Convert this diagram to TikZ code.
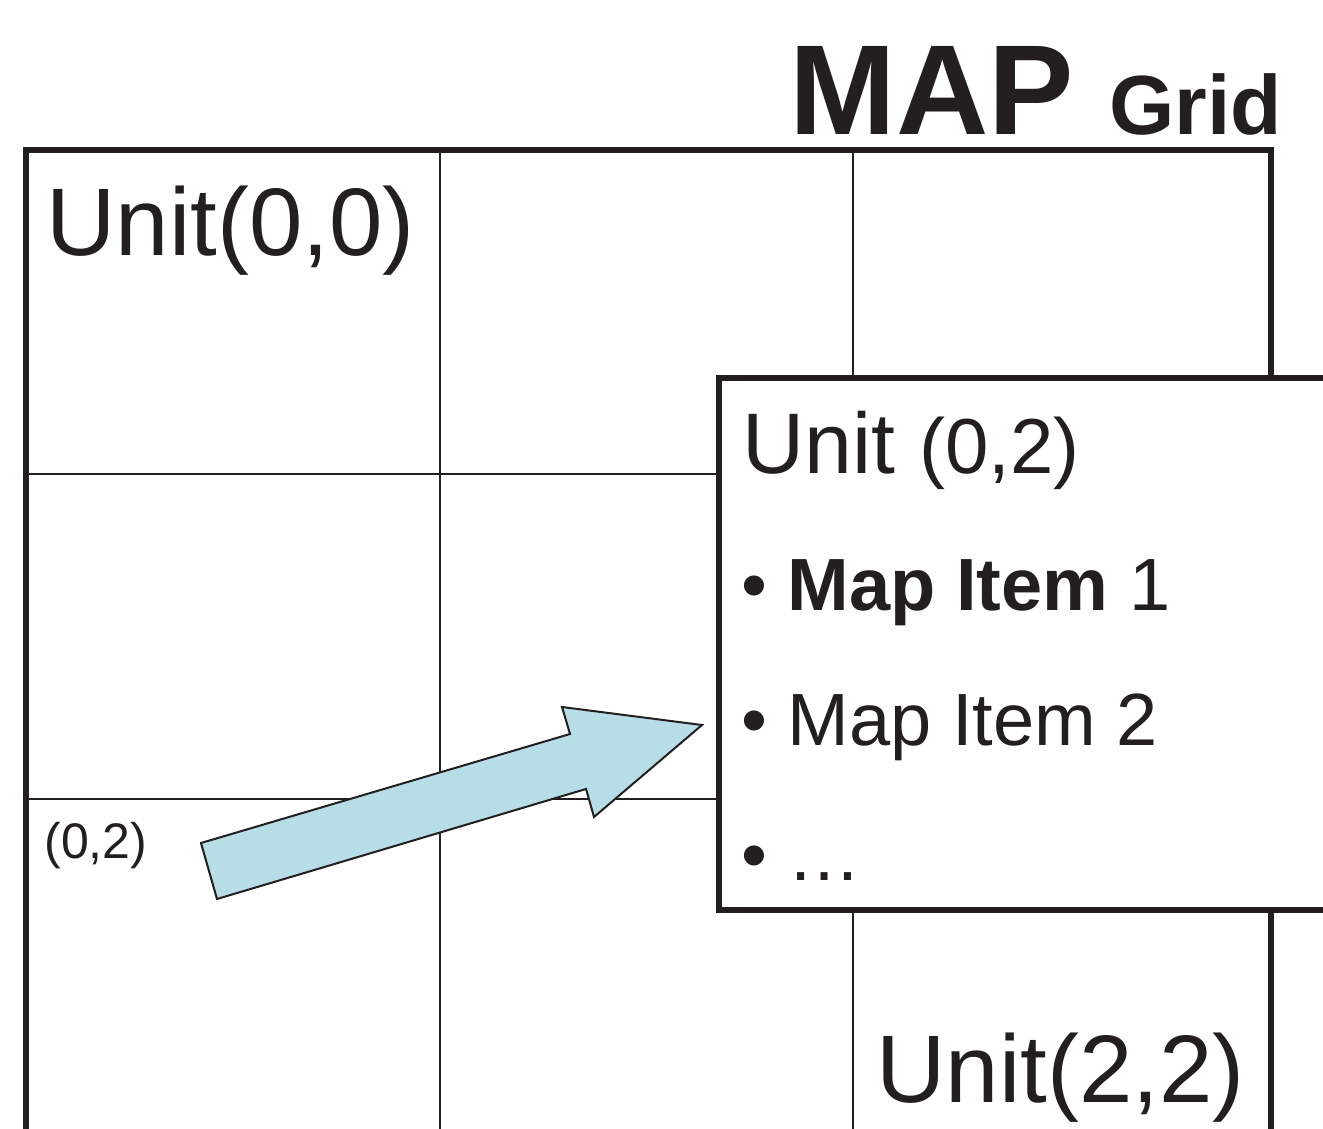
\documentclass[tikz,border=0pt]{standalone}
\usepackage{fontspec}
\setmainfont{Liberation Sans}
\usepackage{xcolor}
\definecolor{ink}{RGB}{35,31,32}
\definecolor{arrowblue}{RGB}{183,221,231}
\tikzset{
    grid-frame/.style = {draw=ink, line width=3pt, line join=miter},
    grid-line/.style = {draw=ink, line width=1.2pt},
    popup-box/.style = {draw=ink, fill=white, line width=3pt, outer sep=0pt},
    unit-label/.style = {text=ink, inner sep=0pt, anchor=base west, font=\fontsize{48}{48}\selectfont},
    item-label/.style = {text=ink, inner sep=0pt, anchor=base west, font=\fontsize{37}{37}\selectfont},
    blue-arrow/.style = {draw=ink, fill=arrowblue, line width=1pt, line join=miter},
}

\begin{document}
\begin{tikzpicture}[x=0.5pt, y=-0.5pt]
\useasboundingbox (0,0) rectangle (1323,1129);
\clip (0,0) rectangle (1323,1129);
% grid
\draw[grid-line] (440,150) -- (440,1140);
\draw[grid-line] (853,150) -- (853,1140);
\draw[grid-line] (26,474) -- (1271,474);
\draw[grid-line] (26,799) -- (1271,799);
\draw[grid-frame] (26,1140) -- (26,150) -- (1271,150) -- (1271,1140);
% title
\node[text=ink, inner sep=0pt, anchor=base west, font=\fontsize{64}{64}\selectfont\bfseries] (title) at (789,134) {MAP {\fontsize{42}{42}\selectfont Grid}};
% cell labels
\node[unit-label] (unit00) at (46,255) {Unit(0,0)};
\node[unit-label] (unit22) at (876,1102) {Unit(2,2)};
\node[text=ink, inner sep=0pt, anchor=base west, font=\fontsize{25}{25}\selectfont] (cell02) at (44,858) {(0,2)};
% arrow from the cell to its contents
\filldraw[blue-arrow] (201,843) -- (570,734) -- (562,707) -- (702,725) -- (594,817) -- (586,789) -- (217,899) -- cycle;
% contents of unit (0,2)
\node[popup-box, anchor=north west, minimum width=320pt, minimum height=266pt] (popup) at (719,378) {};
\node[text=ink, inner sep=0pt, anchor=base west, font=\fontsize{43}{43}\selectfont] (popup-title) at (742,473) {Unit {\fontsize{39}{39}\selectfont (0,2)}};
\node[item-label] (item1) at (741,610) {\textbullet\ \textbf{Map Item} 1};
\node[item-label] (item2) at (741,745) {\textbullet\ Map Item 2};
\node[item-label] (item3) at (741,880) {\textbullet\ \dots};
\end{tikzpicture}
\end{document}
